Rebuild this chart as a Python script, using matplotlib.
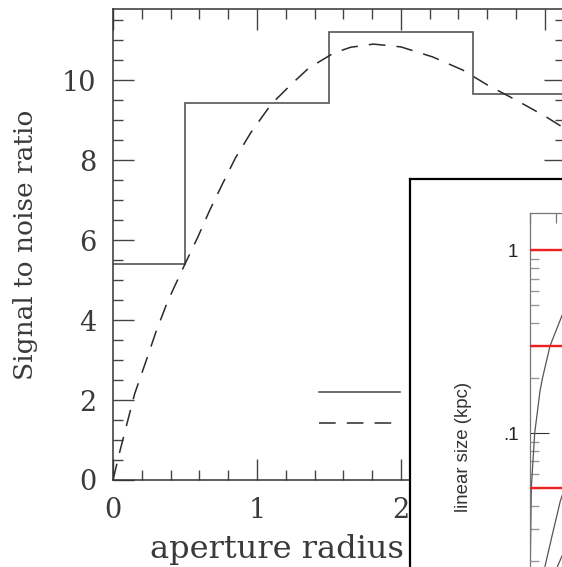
import numpy as np
import matplotlib
matplotlib.use("Agg")
import matplotlib.pyplot as plt
from matplotlib.ticker import MultipleLocator, FixedLocator, FixedFormatter, LogLocator, NullFormatter

plt.rcParams['lines.scale_dashes'] = False

# Measured S/N in aperture bins
bin_edges = [0.0, 0.5, 1.5, 2.5, 3.5]
snr_measured = [5.4, 9.42, 11.2, 9.65]

# Model S/N curve
radius_model = [0.0, 0.05, 0.1, 0.15, 0.23, 0.3, 0.38, 0.5, 0.59, 0.67, 0.76, 0.85, 0.96,
                1.1, 1.24, 1.36, 1.53, 1.65, 1.81, 2.0, 2.22, 2.43, 2.6, 2.8, 3.0, 3.2]
snr_model = [0.0, 0.75, 1.45, 2.15, 2.98, 3.72, 4.47, 5.4, 6.08, 6.73, 7.4, 8.05, 8.7,
             9.4, 9.9, 10.3, 10.67, 10.82, 10.9, 10.83, 10.58, 10.25, 9.88, 9.5, 9.1, 8.65]

# Inset: linear size vs redshift
size_levels = [1.0, 0.3, 0.05]
z_a = [0.0, 0.008, 0.015, 0.034, 0.098, 0.198, 0.245, 0.387, 0.6, 0.62, 0.9]
size_a = [0.001, 0.01, 0.019, 0.05, 0.1, 0.17, 0.2, 0.3, 0.43, 0.445, 0.6]
z_b = [0.08, 0.298, 0.425, 0.581, 0.62, 0.9]
size_b = [0.01, 0.019, 0.0274, 0.0425, 0.046, 0.07]
z_c = [0.35, 0.532, 0.62, 0.9]
size_c = [0.012, 0.0188, 0.0215, 0.03]

W, H = 562, 567
fig = plt.figure(figsize=(W / 100, H / 100), dpi=100)

def px_rect(x0, y0, x1, y1):
    # pixel box (top-left origin) -> figure fraction rect
    return [x0 / W, 1 - y1 / H, (x1 - x0) / W, (y1 - y0) / H]

serif = 'DejaVu Serif'
txt_col = '#3a3a3a'
dash = (12, 8)

ax = fig.add_axes(px_rect(113, 9.3, 565, 480))
ax.stairs(snr_measured, bin_edges, baseline=None, color='#555555', lw=1.2)
ax.plot(radius_model, snr_model, color='#2a2a2a', lw=1.1, dashes=dash)
ax.set_xlim(0, 3.14)
ax.set_ylim(0, 11.77)

ax.xaxis.set_major_locator(MultipleLocator(1))
ax.xaxis.set_minor_locator(MultipleLocator(0.2))
ax.yaxis.set_major_locator(MultipleLocator(2))
ax.yaxis.set_minor_locator(MultipleLocator(0.5))
ax.tick_params(which='both', direction='in', top=True, right=True, color='#444444', width=1.0)
ax.tick_params(which='major', length=15, pad=12, labelsize=19.5, labelcolor=txt_col)
ax.tick_params(which='minor', length=7.5)
for lab in ax.get_xticklabels() + ax.get_yticklabels():
    lab.set_family(serif)
for sp in ax.spines.values():
    sp.set_color('#333333')
    sp.set_linewidth(1.1)

ax.text((26 - 113) / 452, 0.5, 'Signal to noise ratio', transform=ax.transAxes,
        rotation=90, ha='center', va='center', fontsize=19, family=serif, color=txt_col)
ax.text((150 - 113) / 452, -(558 - 480) / 470.7, 'aperture radius', transform=ax.transAxes,
        ha='left', va='baseline', fontsize=23, family=serif, color=txt_col, clip_on=False)

# legend keys (labels sit under the inset)
h_step, = ax.plot([], [], color='#555555', lw=1.2)
h_model, = ax.plot([], [], color='#2a2a2a', lw=1.1, dashes=dash)
ax.legend([h_step, h_model], [' ', ' '], loc='upper left',
          bbox_to_anchor=((319 - 113) / 452, 1 - (395 - 9.3 - 11) / 470.7),
          frameon=False, fontsize=16, handlelength=81 / 22.2, borderpad=0,
          borderaxespad=0, labelspacing=0.47, handletextpad=0.3)

# inset frame
box = fig.add_axes(px_rect(410, 179, 640, 640))
box.set_facecolor('white')
box.set_xticks([])
box.set_yticks([])
for sp in box.spines.values():
    sp.set_color('black')
    sp.set_linewidth(1.6)

sans = 'Liberation Sans'
ins = fig.add_axes(px_rect(529.5, 213, 529.5 + 53 * 3, 616))
ins.set_facecolor('none')
ins.set_yscale('log')
ins.set_xlim(0, 3)
ins.set_ylim(0.01, 1.6)
for lev in size_levels:
    ins.axhline(lev, color='#ee2020', lw=1.7, zorder=3)
for zz, ss in [(z_a, size_a), (z_b, size_b), (z_c, size_c)]:
    ins.plot(zz, ss, color='#555555', lw=0.9)

ins.yaxis.set_major_locator(FixedLocator([0.1, 1]))
ins.yaxis.set_major_formatter(FixedFormatter(['.1', '1']))
ins.yaxis.set_minor_locator(LogLocator(base=10, subs=np.arange(2, 10)))
ins.yaxis.set_minor_formatter(NullFormatter())
ins.xaxis.set_major_locator(MultipleLocator(0.5))
ins.tick_params(axis='x', which='both', direction='in', top=True, bottom=False,
                labeltop=False, labelbottom=False, length=7, color='#777777', width=0.9)
ins.tick_params(axis='y', which='major', direction='in', length=13.5, width=0.8,
                color='#333333', pad=8, labelsize=13.5, labelcolor='#222222')
ins.tick_params(axis='y', which='minor', direction='in', length=6.5, width=1.0, color='#999999')
for lab in ins.get_yticklabels():
    lab.set_family(sans)
for sp in ins.spines.values():
    sp.set_color('#777777')
    sp.set_linewidth(0.9)

fig.text(463 / W, 1 - 447 / H, 'linear size (kpc)', rotation=90, ha='center', va='center',
         fontsize=13.4, family=sans, color='#333333')

fig.savefig('out.png', dpi=100)
